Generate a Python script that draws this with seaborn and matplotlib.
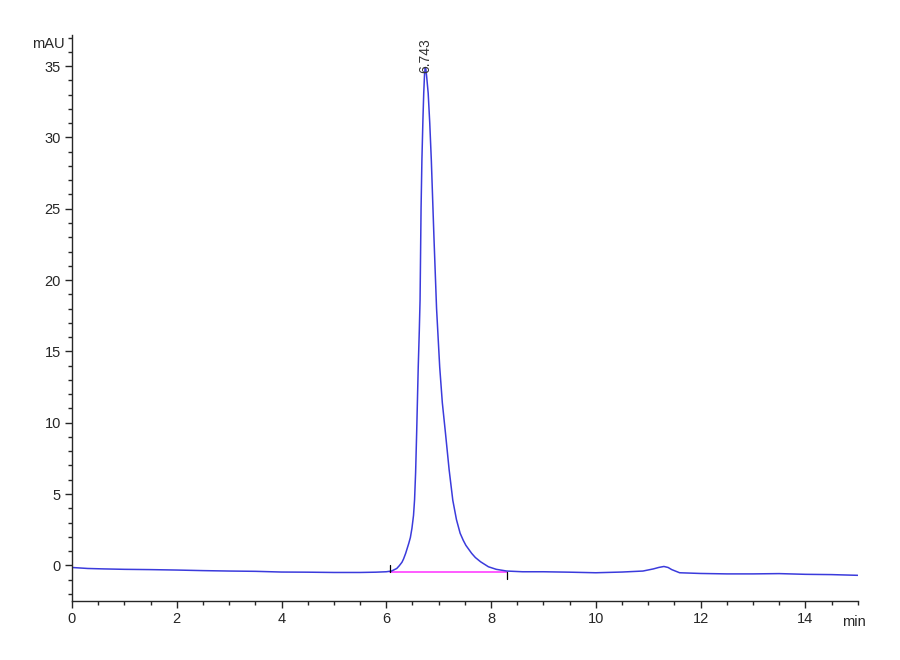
import pandas as pd
import matplotlib
matplotlib.use("Agg")
import matplotlib.pyplot as plt
from matplotlib.ticker import MultipleLocator
import seaborn as sns

# trace (min, mAU)
time = [0.0, 0.3, 0.6, 1.0, 1.5, 2.0, 2.5, 3.0, 3.5, 4.0, 4.5, 5.0, 5.5, 5.8,
        6.0, 6.1, 6.2, 6.25, 6.3, 6.33, 6.37, 6.43, 6.46, 6.49, 6.52, 6.54,
        6.56, 6.58, 6.61, 6.63, 6.645, 6.664, 6.68, 6.70, 6.715, 6.73, 6.743,
        6.755, 6.77, 6.79, 6.80, 6.83, 6.86, 6.91, 6.96, 7.02, 7.07, 7.13,
        7.20, 7.27, 7.34, 7.41, 7.47, 7.52, 7.63, 7.70, 7.80, 7.95, 8.10, 8.30,
        8.60, 9.0, 9.5, 10.0, 10.5, 10.9, 11.1, 11.2, 11.3, 11.38, 11.45, 11.6,
        12.0, 12.5, 13.0, 13.5, 14.0, 14.5, 15.0]
signal = [-0.15, -0.22, -0.25, -0.28, -0.30, -0.33, -0.37, -0.40, -0.42, -0.47,
          -0.48, -0.50, -0.50, -0.48, -0.45, -0.40, -0.22, -0.02, 0.22, 0.45,
          0.84, 1.55, 1.95, 2.6, 3.5, 4.6, 6.5, 9.3, 13.9, 16.4, 18.6, 25.0,
          28.4, 31.3, 33.1, 34.4, 34.9, 34.8, 34.3, 33.5, 33.1, 31.0, 28.4,
          23.0, 18.0, 13.9, 11.4, 9.27, 6.7, 4.56, 3.2, 2.25, 1.75, 1.4, 0.84,
          0.55, 0.25, -0.10, -0.28, -0.40, -0.45, -0.45, -0.48, -0.52, -0.47,
          -0.40, -0.25, -0.15, -0.08, -0.15, -0.30, -0.52, -0.57, -0.60, -0.60,
          -0.58, -0.63, -0.65, -0.70]

peak_rt = 6.743
peak_height = 34.9
peak_label = "6.743"
integ_start = (6.08, -0.45)
integ_end = (8.31, -0.45)

df = pd.DataFrame({"time": time, "signal": signal})

sns.set_style("ticks")
plt.rcParams['font.family'] = ['Liberation Sans Narrow', 'Liberation Sans', 'DejaVu Sans']

fig = plt.figure(figsize=(9, 6.6), dpi=100)
ax = fig.add_axes([0.08, 0.0894, 0.873, 0.858])

sns.lineplot(data=df, x="time", y="signal", ax=ax, color="#3b3bdc",
             linewidth=1.1, estimator=None, sort=True)

# integration baseline and markers
ax.plot([integ_start[0], integ_end[0]], [integ_start[1], integ_end[1]],
        color="#ff40ff", linewidth=1.2, zorder=1)
ax.plot([integ_start[0], integ_start[0]], [integ_start[1], integ_start[1] + 0.5],
        color="black", linewidth=0.9)
ax.plot([integ_end[0], integ_end[0]], [integ_end[1], integ_end[1] - 0.5],
        color="black", linewidth=0.9)

ax.text(peak_rt, peak_height - 0.4, peak_label, rotation=90, ha="center",
        va="bottom", fontsize=10, color="#333333")

ax.set_xlim(0, 15)
ax.set_ylim(-2.5, 37.2)
ax.xaxis.set_major_locator(MultipleLocator(2))
ax.xaxis.set_minor_locator(MultipleLocator(0.5))
ax.yaxis.set_major_locator(MultipleLocator(5))
ax.yaxis.set_minor_locator(MultipleLocator(1))
ax.tick_params(which="major", direction="out", length=5, width=1, labelsize=10.5, pad=3)
ax.tick_params(which="minor", direction="out", length=3, width=1)
ax.set_xlabel("")
ax.set_ylabel("")
sns.despine(ax=ax)
for s in ["left", "bottom"]:
    ax.spines[s].set_linewidth(1)

fig.text(48 / 900, 1 - 44 / 660, "mAU", fontsize=10.5, ha="center", va="center")
fig.text(842 / 900, 1 - 622 / 660, "min", fontsize=10.5, ha="left", va="center")

fig.savefig("out.png", dpi=100)
